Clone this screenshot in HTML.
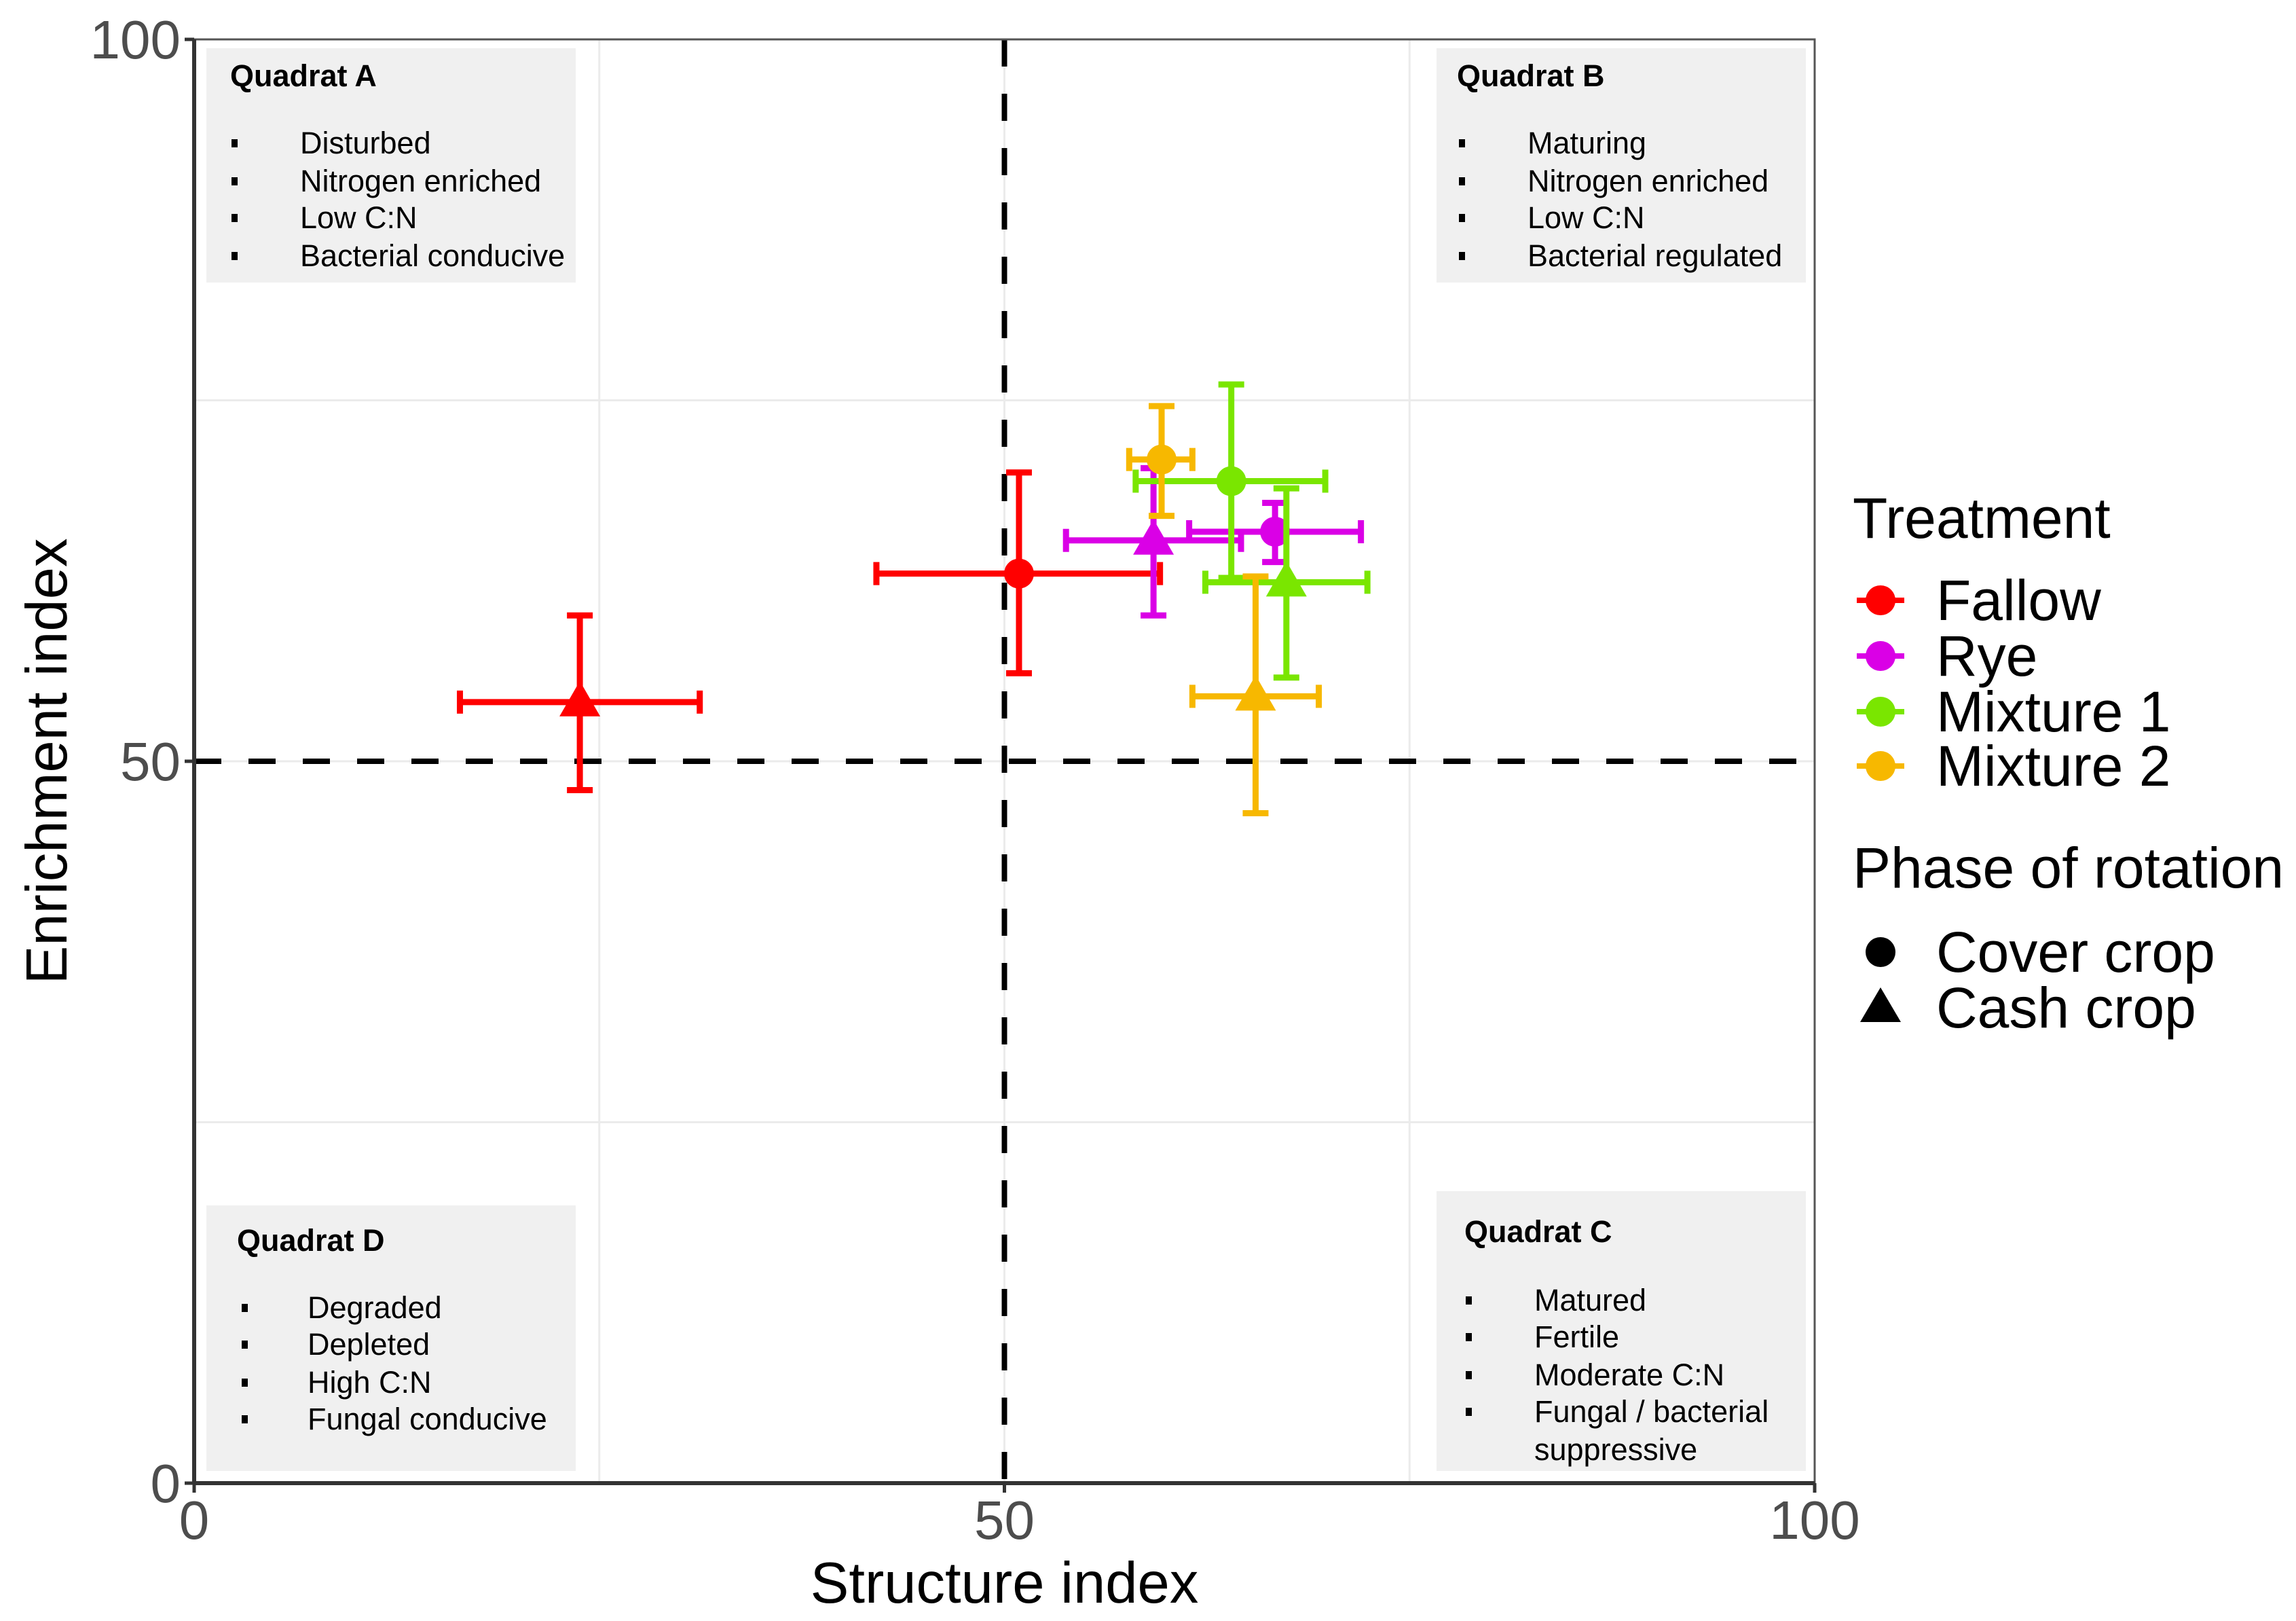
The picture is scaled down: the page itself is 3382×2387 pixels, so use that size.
<!DOCTYPE html>
<html><head><meta charset="utf-8"><style>
html,body{margin:0;padding:0;background:#fff}
svg{display:block;font-family:"Liberation Sans",Arial,sans-serif}
</style></head><body>
<svg id="chart" width="3382" height="2387" viewBox="0 0 3382 2387" xmlns="http://www.w3.org/2000/svg">
<g id="grid"></g>
<g id="boxes"></g>
<g id="refs"></g>
<g id="marks"></g>
<g id="axes"></g>
<g id="legend"></g>
</svg>
<script>
const treatments = ["Fallow","Rye","Mixture 1","Mixture 2"];
const colors = ["#ff0000","#da00e6","#7ae600","#f7b800"];
const phases = ["Cover crop","Cash crop"];
// per treatment: [cover, cash]
const xMean = [[50.9,23.8],[66.7,59.2],[64.0,67.4],[59.7,65.5]];
const xLow  = [[42.1,16.4],[61.4,53.8],[58.1,62.4],[57.7,61.6]];
const xHigh = [[59.6,31.2],[72.0,64.6],[69.8,72.4],[61.6,69.4]];
const yMean = [[63.0,54.1],[65.9,65.3],[69.4,62.4],[70.9,54.5]];
const yLow  = [[56.1,48.0],[63.8,60.1],[62.7,55.8],[67.0,46.4]];
const yHigh = [[70.0,60.1],[67.9,70.3],[76.1,68.9],[74.6,62.8]];
const ticks = [0,50,100];
const gridMinor = [25,75];

const NS="http://www.w3.org/2000/svg";
const X0=286,X1=2673,Y0=2184,Y1=58;
const sx=v=>X0+(X1-X0)*v/100;
const sy=v=>Y0-(Y0-Y1)*v/100;
function el(tag,attrs,parent,text){const e=document.createElementNS(NS,tag);for(const k in attrs)e.setAttribute(k,attrs[k]);if(text!==undefined)e.textContent=text;parent.appendChild(e);return e;}

const grid=document.getElementById('grid');
const gl=[...gridMinor,...ticks];
gl.forEach(v=>{
  const a=el('line',{x1:sx(v),x2:sx(v),y1:Y1,y2:Y0,stroke:'#ebebeb','stroke-width':3},grid);
  
  
  const b=el('line',{x1:X0,x2:X1,y1:sy(v),y2:sy(v),stroke:'#ebebeb','stroke-width':3},grid);
  
  
});

const boxes=document.getElementById('boxes');
const quads=[
 {name:'quadrat-a',x:304,y:71,w:544,h:345,tx:339,ty:127,bx:345,lx:442,ly:[211,267,321,377],title:'Quadrat A',items:['Disturbed','Nitrogen enriched','Low C:N','Bacterial conducive']},
 {name:'quadrat-b',x:2116,y:71,w:544,h:345,tx:2146,ty:127,bx:2153,lx:2250,ly:[211,267,321,377],title:'Quadrat B',items:['Maturing','Nitrogen enriched','Low C:N','Bacterial regulated']},
 {name:'quadrat-d',x:304,y:1775,w:544,h:391,tx:349,ty:1842,bx:360,lx:453,ly:[1926,1980,2036,2090],title:'Quadrat D',items:['Degraded','Depleted','High C:N','Fungal conducive']},
 {name:'quadrat-c',x:2116,y:1754,w:544,h:412,tx:2157,ty:1829,bx:2163,lx:2260,ly:[1915,1969,2025,2079,2135],title:'Quadrat C',items:['Matured','Fertile','Moderate C:N','Fungal / bacterial','suppressive']}
];
quads.forEach(q=>{
  const g=el('g',{},boxes);
  
  
  el('rect',{x:q.x,y:q.y,width:q.w,height:q.h,fill:'#f0f0f0'},g);
  const t=el('text',{x:q.tx,y:q.ty,'font-size':45,'font-weight':'bold',fill:'#000'},g,q.title);
  
  
  q.items.forEach((it,i)=>{
    const cont=(q.name==='quadrat-c'&&i===4);
    if(!cont) el('rect',{x:q.bx-4,y:q.ly[i]-6,width:9,height:12,fill:'#000'},g);
    const tt=el('text',{x:q.lx,y:q.ly[i]+15,'font-size':45,fill:'#000'},g,it);
    
    
  });
});

const refs=document.getElementById('refs');
const r1=el('line',{x1:sx(50),x2:sx(50),y1:Y1,y2:Y0,stroke:'#000','stroke-width':8,'stroke-dasharray':'40 40'},refs);


const r2=el('line',{x1:X0,x2:X1,y1:sy(50),y2:sy(50),stroke:'#000','stroke-width':8,'stroke-dasharray':'40 40'},refs);



const marks=document.getElementById('marks');
treatments.forEach((tr,i)=>{
  phases.forEach((ph,j)=>{
    const g=el('g',{stroke:colors[i],'stroke-width':9,fill:colors[i]},marks);
    
    
    const cx=sx(xMean[i][j]),cy=sy(yMean[i][j]);
    const xl=sx(xLow[i][j]),xh=sx(xHigh[i][j]),yl=sy(yLow[i][j]),yh=sy(yHigh[i][j]);
    el('line',{x1:xl,x2:xh,y1:cy,y2:cy},g);
    el('line',{x1:xl,x2:xl,y1:cy-17,y2:cy+17},g);
    el('line',{x1:xh,x2:xh,y1:cy-17,y2:cy+17},g);
    el('line',{x1:cx,x2:cx,y1:yl,y2:yh},g);
    el('line',{x1:cx-19,x2:cx+19,y1:yl,y2:yl},g);
    el('line',{x1:cx-19,x2:cx+19,y1:yh,y2:yh},g);
    if(j===0) el('circle',{cx:cx,cy:cy,r:22,stroke:'none'},g);
    else el('polygon',{points:`${cx},${cy-31} ${cx-30},${cy+21} ${cx+30},${cy+21}`,stroke:'none'},g);
  });
});

const axes=document.getElementById('axes');
el('rect',{x:X0,y:Y1,width:X1-X0,height:Y0-Y1,fill:'none',stroke:'#555','stroke-width':3},axes);
el('line',{x1:X0,x2:X1,y1:Y0,y2:Y0,stroke:'#333','stroke-width':6},axes);
el('line',{x1:X0,x2:X0,y1:Y1,y2:Y0,stroke:'#333','stroke-width':6},axes);
ticks.forEach(v=>{
  el('line',{x1:sx(v),x2:sx(v),y1:Y0,y2:Y0+14,stroke:'#333','stroke-width':5},axes);
  el('line',{x1:X0-14,x2:X0,y1:sy(v),y2:sy(v),stroke:'#333','stroke-width':5},axes);
  const xt=el('text',{x:sx(v),y:Y0+82,'font-size':80,fill:'#4d4d4d','text-anchor':'middle'},axes,String(v));
  
  
  const yt=el('text',{x:X0-20,y:sy(v)+28,'font-size':80,fill:'#4d4d4d','text-anchor':'end'},axes,String(v));
  
  
});
const xtitle=el('text',{x:sx(50),y:2360,'font-size':85,fill:'#000','text-anchor':'middle'},axes,'Structure index');


const ytitle=el('text',{x:0,y:0,'font-size':85,fill:'#000','text-anchor':'middle',transform:`translate(98,${sy(50)}) rotate(-90)`},axes,'Enrichment index');



const lg=document.getElementById('legend');
const lt1=el('text',{x:2729,y:792,'font-size':84,fill:'#000'},lg,'Treatment');


const ly=[884,966,1048,1128];
treatments.forEach((tr,i)=>{
  const g=el('g',{},lg);
  
  
  el('line',{x1:2735,x2:2805,y1:ly[i],y2:ly[i],stroke:colors[i],'stroke-width':8},g);
  el('circle',{cx:2770,cy:ly[i],r:22,fill:colors[i]},g);
  el('text',{x:2852,y:ly[i]+29,'font-size':84,fill:'#000'},g,tr);
});
const lt2=el('text',{x:2729,y:1307,'font-size':84,fill:'#000'},lg,'Phase of rotation');


const g1=el('g',{},lg);


el('circle',{cx:2770,cy:1402,r:22,fill:'#000'},g1);
el('text',{x:2852,y:1431,'font-size':84,fill:'#000'},g1,phases[0]);
const g2=el('g',{},lg);


el('polygon',{points:'2770,1454 2740,1505 2800,1505',fill:'#000'},g2);
el('text',{x:2852,y:1513,'font-size':84,fill:'#000'},g2,phases[1]);
</script>
</body></html>
